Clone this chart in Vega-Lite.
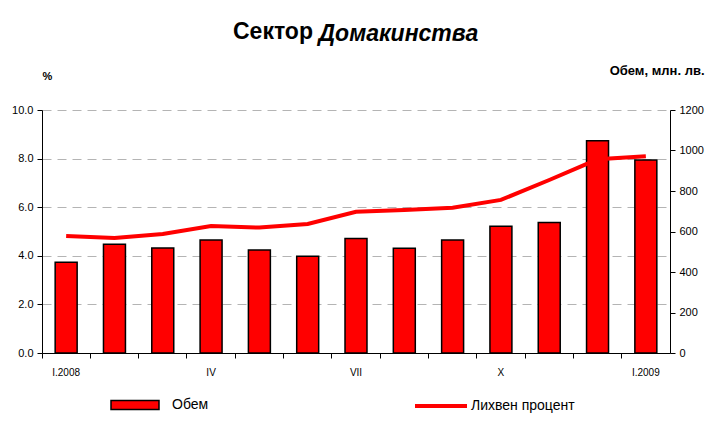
{
  "$schema": "https://vega.github.io/schema/vega-lite/v6.json",
  "width": 628,
  "height": 243,
  "autosize": {"type": "none"},
  "padding": {"left": 42, "top": 110, "right": 37, "bottom": 78},
  "background": "white",
  "title": {
    "text": "Сектор",
    "anchor": "start",
    "frame": "group",
    "dx": 191,
    "offset": -22,
    "font": "Liberation Sans",
    "fontSize": 23,
    "fontWeight": "bold",
    "color": "black"
  },
  "data": {
    "values": [
      {"month": "I.2008", "obem": 448, "rate": 4.81},
      {"month": "II", "obem": 537, "rate": 4.73},
      {"month": "III", "obem": 519, "rate": 4.90},
      {"month": "IV", "obem": 558, "rate": 5.23},
      {"month": "V", "obem": 509, "rate": 5.16},
      {"month": "VI", "obem": 478, "rate": 5.31},
      {"month": "VII", "obem": 566, "rate": 5.81},
      {"month": "VIII", "obem": 517, "rate": 5.88},
      {"month": "IX", "obem": 558, "rate": 5.98},
      {"month": "X", "obem": 626, "rate": 6.30},
      {"month": "XI", "obem": 645, "rate": 7.12},
      {"month": "XII", "obem": 1048, "rate": 7.97},
      {"month": "I.2009", "obem": 953, "rate": 8.10}
    ]
  },
  "encoding": {
    "x": {
      "field": "month",
      "type": "nominal",
      "sort": null,
      "title": "Домакинства",
      "scale": {"paddingInner": 0, "paddingOuter": 0},
      "axis": {
        "bandPosition": 0,
        "labelAngle": 0,
        "labelAlign": "center",
        "labelExpr": "indexof(['I.2008','IV','VII','X','I.2009'], datum.value) >= 0 ? datum.value : ''",
        "labelOverlap": false,
        "labelBound": false,
        "tickSize": 5,
        "labelPadding": 9,
        "labelFontSize": 10,
        "labelFont": "Liberation Sans",
        "labelColor": "black",
        "domainColor": "black",
        "tickColor": "black",
        "grid": false,
        "titleX": 276,
        "titleY": -313,
        "titleAlign": "left",
        "titleAnchor": null,
        "titleBaseline": "alphabetic",
        "titleFont": "Liberation Sans",
        "titleFontSize": 23,
        "titleFontWeight": "bold",
        "titleFontStyle": "italic",
        "titleColor": "black",
        "titleLimit": 400
      }
    }
  },
  "layer": [
    {
      "mark": {"type": "bar", "width": {"band": 0.455}, "stroke": "black", "strokeWidth": 1.5},
      "encoding": {
        "y": {
          "field": "obem",
          "type": "quantitative",
          "scale": {"domain": [0, 1200]},
          "axis": {
            "orient": "right",
            "title": "Обем, млн. лв.",
            "values": [0, 200, 400, 600, 800, 1000, 1200],
            "format": "d",
            "titleAngle": 0,
            "titleX": 34,
            "titleY": -40,
            "titleAlign": "right",
            "titleBaseline": "middle",
            "titleFontSize": 13,
            "titleFont": "Liberation Sans",
            "titleFontWeight": "bold",
            "titleColor": "black",
            "titleLimit": 300,
            "grid": false,
            "tickSize": 5,
            "labelPadding": 4,
            "labelFontSize": 11,
            "labelFont": "Liberation Sans",
            "labelColor": "black",
            "domainColor": "black",
            "tickColor": "black"
          }
        },
        "fill": {
          "datum": "Обем",
          "type": "nominal",
          "scale": {"range": ["#ff0000"]},
          "legend": {
            "title": null,
            "orient": "none",
            "legendX": 68,
            "legendY": 270,
            "symbolType": "M-1,-0.1875H1V0.1875H-1Z",
            "symbolSize": 2304,
            "symbolFillColor": "#ff0000",
            "symbolStrokeColor": "black",
            "symbolStrokeWidth": 1.5,
            "symbolOpacity": 1,
            "labelFontSize": 14,
            "labelFont": "Liberation Sans",
            "labelColor": "black",
            "labelOffset": 12,
            "padding": 0
          }
        }
      }
    },
    {
      "mark": {"type": "line", "strokeWidth": 4},
      "encoding": {
        "y": {
          "field": "rate",
          "type": "quantitative",
          "scale": {"domain": [0, 10]},
          "axis": {
            "orient": "left",
            "title": "%",
            "values": [0, 2, 4, 6, 8, 10],
            "format": ".1f",
            "titleAngle": 0,
            "titleX": 5,
            "titleY": -34,
            "titleAlign": "center",
            "titleBaseline": "middle",
            "titleFontSize": 11,
            "titleFont": "Liberation Sans",
            "titleFontWeight": "bold",
            "titleColor": "black",
            "grid": true,
            "gridDash": [9, 6],
            "gridColor": "#b4b4b4",
            "gridWidth": 1,
            "tickSize": 5,
            "labelPadding": 4,
            "labelFontSize": 11,
            "labelFont": "Liberation Sans",
            "labelColor": "black",
            "domainColor": "black",
            "tickColor": "black"
          }
        },
        "stroke": {
          "datum": "Лихвен процент",
          "type": "nominal",
          "scale": {"range": ["#ff0000"]},
          "legend": {
            "title": null,
            "orient": "none",
            "legendX": 371,
            "legendY": 268,
            "symbolType": "stroke",
            "symbolSize": 2704,
            "symbolStrokeColor": "#ff0000",
            "symbolStrokeWidth": 4,
            "labelFontSize": 14,
            "labelFont": "Liberation Sans",
            "labelColor": "black",
            "labelOffset": 2,
            "padding": 0
          }
        }
      }
    }
  ],
  "resolve": {"scale": {"y": "independent", "fill": "independent", "stroke": "independent"}},
  "config": {"view": {"stroke": null}}
}
